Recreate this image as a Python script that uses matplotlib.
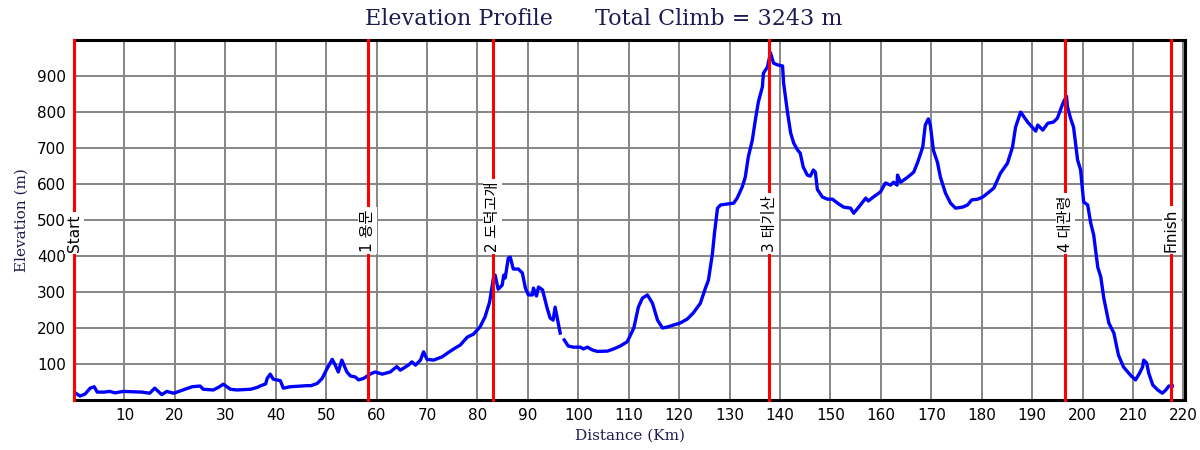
import numpy as np
import matplotlib
matplotlib.use("Agg")
import matplotlib.pyplot as plt

# profile (km, m); nan = gap in the track
dist_km = [0, 1.2, 2.2, 3.2, 4.0, 4.6, 5.9, 7.1, 8.1, 9.8, 11.8, 13.5, 15.0, 16.0, 17.4,
           18.4, 19.7, 20.4, 22.0, 23.4, 25.0, 25.6, 27.6, 28.6, 29.6, 31.0, 32.3, 35.0,
           36.3, 36.9, 38.0, 38.3, 38.9, 39.5, 40.9, 41.5, 42.9, 46.2, 47.0, 48.2, 49.2,
           50.2, 51.2, 51.8, 52.4, 53.1, 54.1, 54.8, 55.8, 56.4, 57.4, 58.7, 59.7, 61.1,
           62.7, 64.0, 64.7, 66.3, 67.0, 67.7, 68.7, 69.3, 70.0, 71.3, 73.0, 74.0, 75.3,
           76.6, 78.0, 79.2, 80.5, 81.5, 82.4, 83.2, 83.5, 84.1, 84.9, 85.2, 85.5, 86.1,
           86.5, 86.9, 87.1, 88.1, 88.9, 89.5, 90.1, 90.9, 91.1, 91.7, 92.1, 92.9, 93.8,
           94.4, 95.0, 95.4, 96.0, 96.4, np.nan, 97.2, 98.0, 99.0, 100.4, 101.0, 101.8,
           102.8, 103.8, 105.8, 107.0, 108.3, 109.7, 111.0, 111.9, 112.7, 113.7, 114.7,
           115.7, 116.7, 117.7, 118.8, 120.2, 121.6, 122.8, 124.2, 125.2, 125.8, 126.6,
           127.0, 127.6, 128.2, 130.8, 131.5, 132.5, 133.1, 133.7, 134.5, 135.1, 135.7,
           136.5, 136.7, 137.5, 138.1, 138.7, 139.5, 140.5, 140.7, 141.5, 142.1, 142.7,
           143.5, 144.0, 144.6, 145.4, 146.0, 146.6, 147.0, 147.4, 148.4, 149.4, 150.4,
           151.4, 152.6, 154.0, 154.6, 155.6, 157.0, 157.5, 158.5, 159.9, 160.9, 161.9,
           162.5, 163.2, 163.3, 163.9, 165.3, 166.5, 167.3, 168.3, 168.8, 169.4, 169.8,
           170.4, 171.2, 171.8, 172.8, 173.8, 174.8, 176.2, 177.2, 178.0, 179.2, 180.2,
           181.2, 182.4, 183.7, 185.1, 186.1, 186.7, 187.7, 189.1, 190.7, 191.1, 192.1,
           193.1, 194.2, 195.0, 195.6, 196.2, 196.8, 197.0, 197.6, 198.2, 199.0, 199.6,
           200.2, 201.0, 201.6, 202.2, 203.0, 203.6, 204.2, 205.2, 206.2, 207.1, 208.1,
           209.5, 210.5, 211.3, 211.9, 212.1, 212.7, 213.1, 213.9, 214.9, 215.8, 216.5,
           217.1, 217.8]
elev_m = [22, 11, 17, 33, 37, 22, 22, 24, 20, 24, 23, 22, 19, 33, 15,
          24, 19, 22, 30, 37, 39, 30, 28, 35, 44, 30, 28, 30,
          35, 39, 45, 60, 72, 58, 54, 33, 37, 40, 40, 46, 60,
          88, 113, 97, 78, 111, 78, 67, 64, 56, 60, 72, 78, 72,
          78, 93, 83, 97, 106, 97, 111, 134, 113, 111, 120, 130, 142,
          153, 175, 183, 203, 231, 272, 342, 347, 308, 319, 347, 339, 394,
          397, 375, 364, 364, 353, 311, 292, 292, 311, 289, 314, 306, 256,
          228, 222, 258, 214, 186, np.nan, 167, 150, 147, 147, 142, 147,
          139, 135, 136, 142, 150, 162, 200, 258, 283, 292, 269,
          222, 200, 203, 208, 214, 225, 242, 269, 311, 333, 408,
          464, 533, 542, 547, 561, 592, 619, 675, 722, 778, 828,
          870, 908, 925, 965, 936, 931, 928, 881, 797, 742, 714,
          694, 686, 647, 625, 622, 639, 633, 585, 564, 558, 558,
          547, 536, 533, 519, 536, 561, 553, 564, 578, 603, 597,
          605, 597, 625, 605, 619, 633, 661, 703, 764, 781, 764,
          694, 661, 619, 575, 547, 533, 536, 542, 556, 558, 564,
          575, 589, 630, 658, 703, 758, 800, 772, 747, 764, 750,
          769, 772, 783, 806, 828, 844, 814, 783, 758, 667, 639,
          550, 542, 492, 458, 369, 342, 283, 214, 186, 125, 92,
          69, 56, 75, 92, 111, 103, 75, 42, 28, 19, 28,
          39, 39]

# markers along the route
marker_km = [0, 58.2, 83.0, 137.9, 196.6, 217.6]
marker_names = ["Start", "1 용문", "2 도덕고개", "3 태기산", "4 대관령", "Finish"]

total_climb = 3243
navy = "#1c1c50"

fig = plt.figure(figsize=(12, 4.5), dpi=100)
ax = fig.add_axes([0.0617, 0.111, 0.9258, 0.8])

ax.set_xlim(0, 220.3)
ax.set_ylim(0, 1000)
ax.set_xticks(np.arange(10, 221, 10))
ax.set_yticks(np.arange(100, 901, 100))
ax.tick_params(length=0, labelsize=11, pad=6)
ax.grid(True, color="#858585", linewidth=1.4)
ax.set_axisbelow(True)
for s in ax.spines.values():
    s.set_linewidth(2.2)
    s.set_color("black")

ax.plot(dist_km, elev_m, color="#0000ff", linewidth=2.4, zorder=3)

for km, name in zip(marker_km, marker_names):
    ax.axvline(km, color="#ff0000", linewidth=2.2, zorder=4, clip_on=False)
    ax.text(km, 412, name, rotation=90, ha="center", va="bottom", fontsize=11,
            family=["DejaVu Sans", "Noto Sans CJK KR"], zorder=5,
            bbox=dict(facecolor="white", edgecolor="none", pad=1.5))

ax.set_xlabel("Distance (Km)", family="DejaVu Serif", color=navy, fontsize=11, labelpad=4)
ax.set_ylabel("Elevation (m)", family="DejaVu Serif", color=navy, fontsize=11, labelpad=6)

fig.text(0.304, 0.958, "Elevation Profile", family="DejaVu Serif", color=navy,
         fontsize=16, ha="left", va="center")
fig.text(0.496, 0.958, "Total Climb = %d m" % total_climb, family="DejaVu Serif",
         color=navy, fontsize=16, ha="left", va="center")

fig.savefig("out.png", dpi=100)
